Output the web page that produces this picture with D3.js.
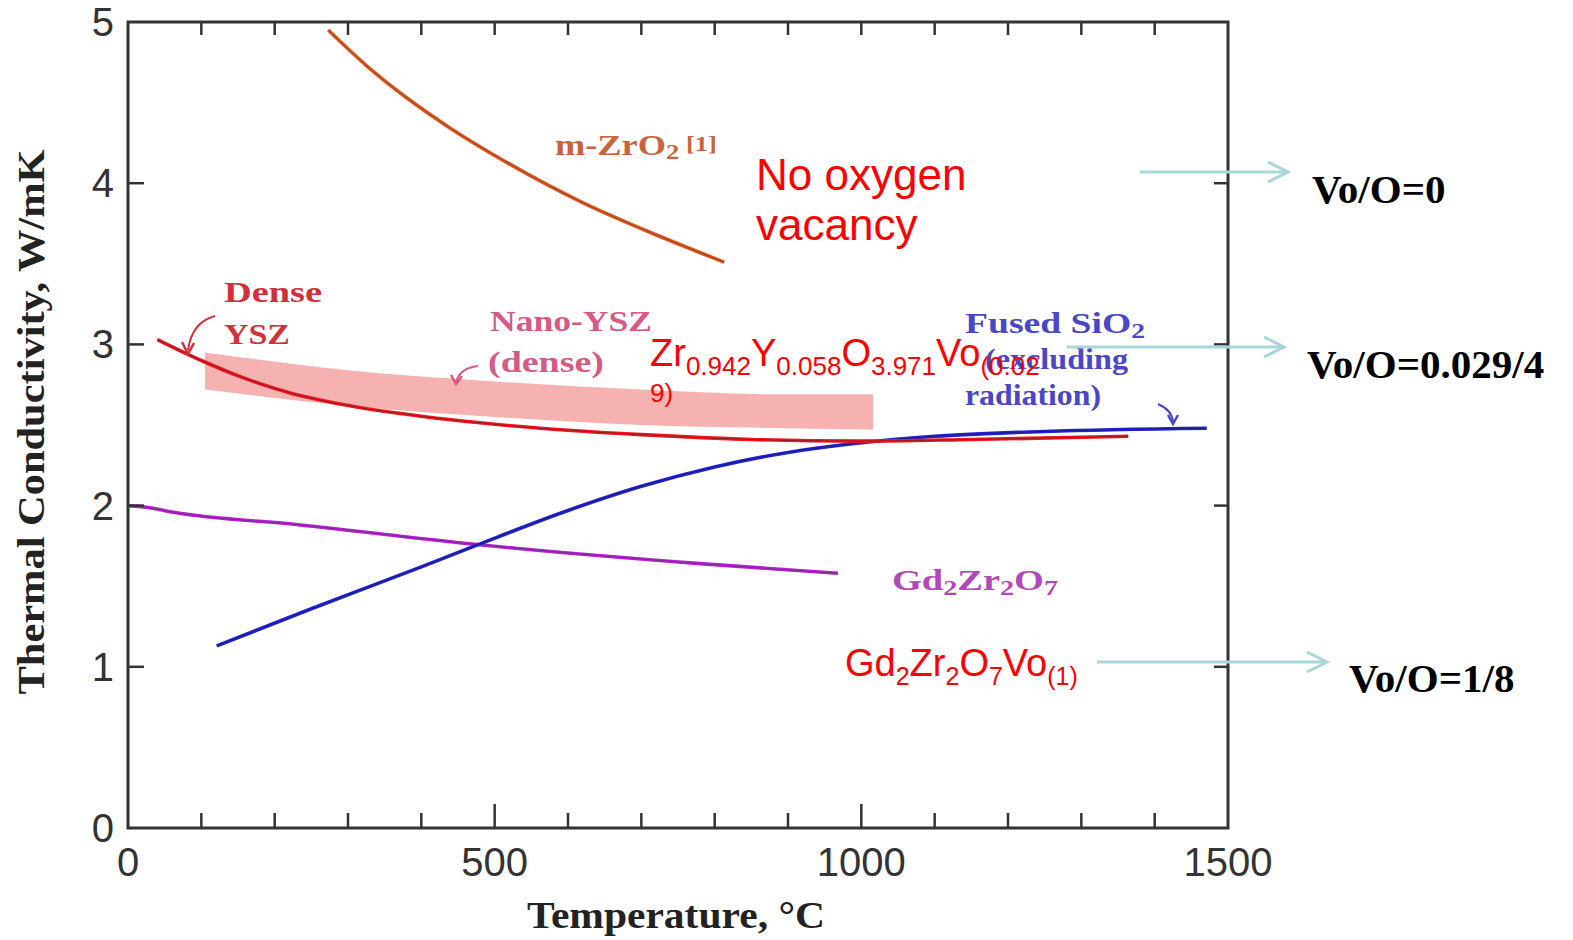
<!DOCTYPE html>
<html>
<head>
<meta charset="utf-8">
<script src="https://cdn.jsdelivr.net/npm/d3@7"></script>
<style>
  html, body { margin: 0; padding: 0; background: #fff; }
  svg { display: block; }
</style>
</head>
<body>
<svg id="chart" width="1573" height="940"></svg>
<script>
// temperatures (°C) and conductivities (W/mK)
var mZrO2 = [[273, 4.95], [325, 4.73], [380, 4.53], [440, 4.34], [520, 4.12], [620, 3.88], [720, 3.68], [813, 3.51]];
var denseYSZ = [[40, 3.03], [100, 2.9], [153, 2.8], [220, 2.7], [289, 2.63], [425, 2.54], [562, 2.48],
  [700, 2.44], [850, 2.41], [1000, 2.4], [1150, 2.41], [1364, 2.43]];
var nanoT = [105, 300, 500, 700, 900, 1016];
var nanoUpper = [2.95, 2.84, 2.77, 2.72, 2.69, 2.69];
var nanoLower = [2.72, 2.62, 2.55, 2.5, 2.48, 2.47];
var fusedSiO2 = [[121, 1.13], [250, 1.36], [400, 1.62], [473, 1.75], [600, 1.97], [700, 2.12], [800, 2.24],
  [900, 2.33], [1000, 2.39], [1100, 2.43], [1250, 2.46], [1471, 2.48]];
var gdZrO = [[0, 2.0], [25, 1.99], [60, 1.96], [235, 1.88], [473, 1.76], [780, 1.64], [968, 1.58]];

var xTickLabels = [0, 500, 1000, 1500];
var yTickLabels = [0, 1, 2, 3, 4, 5];
var vacancyRatios = ['Vo/O=0', 'Vo/O=0.029/4', 'Vo/O=1/8'];

(function () {
  'use strict';
  var svg = d3.select('#chart');
  var serif = '"Liberation Serif", "DejaVu Serif", serif';
  var sans = '"Liberation Sans", Arial, sans-serif';
  var axisCol = '#333';

  var x = d3.scaleLinear().domain([0, 1500]).range([128, 1228]);
  var y = d3.scaleLinear().domain([0, 5]).range([828, 22]);

  var line = d3.line()
    .x(function (d) { return x(d[0]); })
    .y(function (d) { return y(d[1]); })
    .curve(d3.curveMonotoneX);

  // nano-YSZ band
  var band = d3.area()
    .x(function (d, i) { return x(nanoT[i]); })
    .y0(function (d, i) { return y(nanoLower[i]); })
    .y1(function (d, i) { return y(nanoUpper[i]); })
    .curve(d3.curveMonotoneX);
  svg.append('path')
    .attr('d', band(nanoT))
    .attr('fill', '#f5a3a3')
    .attr('opacity', 0.85);

  // curves
  var curves = [
    {data: mZrO2, col: '#dc5a22', core: '#8a2a18'},
    {data: gdZrO, col: '#b426cc', core: '#6a1a80'},
    {data: fusedSiO2, col: '#2424cc', core: '#101070'},
    {data: denseYSZ, col: '#ec1a22', core: '#701018'}
  ];
  curves.forEach(function (c) {
    svg.append('path').attr('d', line(c.data))
      .attr('fill', 'none').attr('stroke', c.col).attr('stroke-width', 3.6);
    svg.append('path').attr('d', line(c.data))
      .attr('fill', 'none').attr('stroke', c.core).attr('stroke-width', 1).attr('opacity', 0.6);
  });

  // frame
  svg.append('rect')
    .attr('x', x(0)).attr('y', y(5))
    .attr('width', x(1500) - x(0)).attr('height', y(0) - y(5))
    .attr('fill', 'none').attr('stroke', axisCol).attr('stroke-width', 3);

  // ticks: bottom (major longer), top, left, right
  var minor = d3.range(100, 1500, 100);
  svg.append('g').selectAll('line').data(minor).join('line')
    .attr('x1', x).attr('x2', x)
    .attr('y1', y(0))
    .attr('y2', function (d) { return y(0) - (d % 500 === 0 ? 24 : 15); })
    .attr('stroke', axisCol).attr('stroke-width', 2.5);
  svg.append('g').selectAll('line').data(minor).join('line')
    .attr('x1', x).attr('x2', x)
    .attr('y1', y(5)).attr('y2', y(5) + 13)
    .attr('stroke', axisCol).attr('stroke-width', 2.5);
  svg.append('g').selectAll('line').data(d3.range(1, 5)).join('line')
    .attr('x1', x(0)).attr('x2', x(0) + 16)
    .attr('y1', y).attr('y2', y)
    .attr('stroke', axisCol).attr('stroke-width', 2.5);
  svg.append('g').selectAll('line').data(d3.range(1, 5)).join('line')
    .attr('x1', x(1500)).attr('x2', x(1500) - 14)
    .attr('y1', y).attr('y2', y)
    .attr('stroke', axisCol).attr('stroke-width', 2.5);

  // tick labels
  svg.append('g').selectAll('text').data(xTickLabels).join('text')
    .attr('x', x).attr('y', 876)
    .attr('text-anchor', 'middle')
    .attr('font-family', sans).attr('font-size', 40).attr('fill', axisCol)
    .text(function (d) { return d; });
  svg.append('g').selectAll('text').data(yTickLabels).join('text')
    .attr('x', 114).attr('y', function (d) { return y(d) + 14; })
    .attr('text-anchor', 'end')
    .attr('font-family', sans).attr('font-size', 40).attr('fill', axisCol)
    .text(function (d) { return d; });

  // axis titles
  svg.append('text')
    .attr('x', 676).attr('y', 928)
    .attr('text-anchor', 'middle')
    .attr('font-family', serif).attr('font-weight', 'bold').attr('font-size', 38)
    .attr('fill', '#222')
    .attr('textLength', 298).attr('lengthAdjust', 'spacingAndGlyphs')
    .text('Temperature, °C');
  svg.append('text')
    .attr('transform', 'translate(44,422) rotate(-90)')
    .attr('text-anchor', 'middle')
    .attr('font-family', serif).attr('font-weight', 'bold').attr('font-size', 38)
    .attr('fill', '#222')
    .attr('textLength', 545).attr('lengthAdjust', 'spacingAndGlyphs')
    .text('Thermal Conductivity, W/mK');

  // helper for labels with subscripts: parts = [[text, shift], ...] (shift 1 = sub, -1 = sup)
  function richText(px, py, parts, opt) {
    var t = svg.append('text')
      .attr('x', px).attr('y', py)
      .attr('font-family', opt.family)
      .attr('font-weight', opt.weight || 'normal')
      .attr('font-size', opt.size)
      .attr('fill', opt.col);
    if (opt.len) {
      t.attr('textLength', opt.len).attr('lengthAdjust', 'spacingAndGlyphs');
    }
    var prev = 0;
    parts.forEach(function (p) {
      var dy = p[1] === 1 ? opt.subDy : (p[1] === -1 ? -4 : 0);
      t.append('tspan')
        .attr('dy', dy - prev)
        .attr('font-size', p[1] ? opt.subSize : opt.size)
        .text(p[0]);
      prev = dy;
    });
    return t;
  }

  var lab = {family: serif, weight: 'bold', size: 30, subSize: 22, subDy: 5};

  // series labels from the original figure
  richText(555, 155, [['m-ZrO', 0], ['2', 1], [' [1]', -1]],
    Object.assign({}, lab, {col: '#c8643c', len: 162, subDy: 4}));
  richText(224, 302, [['Dense', 0]], Object.assign({}, lab, {col: '#d2303a', len: 98}));
  richText(224, 344, [['YSZ', 0]], Object.assign({}, lab, {col: '#d2303a', len: 66}));
  richText(490, 331, [['Nano-YSZ', 0]], Object.assign({}, lab, {col: '#d65a86', len: 162}));
  richText(488, 372, [['(dense)', 0]], Object.assign({}, lab, {col: '#d65a86', len: 116}));
  richText(965, 333, [['Fused SiO', 0], ['2', 1]], Object.assign({}, lab, {col: '#4a46c8', len: 180}));
  richText(985, 369, [['(excluding', 0]], Object.assign({}, lab, {col: '#4a46c8', len: 143}));
  richText(965, 405, [['radiation)', 0]], Object.assign({}, lab, {col: '#4a46c8', len: 136}));
  richText(892, 590, [['Gd', 0], ['2', 1], ['Zr', 0], ['2', 1], ['O', 0], ['7', 1]],
    Object.assign({}, lab, {col: '#b048b8', len: 166}));

  // small curved pointer arrows
  var pointers = [
    {d: 'M215,316 Q192,322 188,350', col: '#d2303a'},
    {d: 'M478,366 Q460,368 456,382', col: '#d65a86'},
    {d: 'M1158,404 Q1172,410 1173,422', col: '#4a46c8'}
  ];
  pointers.forEach(function (p) {
    svg.append('path').attr('d', p.d)
      .attr('fill', 'none').attr('stroke', p.col).attr('stroke-width', 2);
  });
  svg.append('path').attr('d', 'M182,342 L188,354 L194,343').attr('fill', 'none')
    .attr('stroke', '#d2303a').attr('stroke-width', 2.5);
  svg.append('path').attr('d', 'M451,375 L456,384 L462,376').attr('fill', 'none')
    .attr('stroke', '#d65a86').attr('stroke-width', 2.5);
  svg.append('path').attr('d', 'M1168,415 L1173,424 L1178,415').attr('fill', 'none')
    .attr('stroke', '#4a46c8').attr('stroke-width', 2.5);

  // added red annotations
  var red = {family: sans, size: 44, col: '#ff0000'};
  richText(756, 190, [['No oxygen', 0]], red);
  richText(756, 240, [['vacancy', 0]], red);
  var formula = {family: sans, size: 38, subSize: 26, subDy: 9, col: '#ff0000'};
  richText(650, 366, [['Zr', 0], ['0.942', 1], ['Y', 0], ['0.058', 1], ['O', 0], ['3.971', 1],
    ['Vo', 0], ['(0.02', 1]], formula);
  richText(650, 402, [['9)', 0]], {family: sans, size: 26, col: '#ff0000'});
  richText(845, 676, [['Gd', 0], ['2', 1], ['Zr', 0], ['2', 1], ['O', 0], ['7', 1], ['Vo', 0], ['(1)', 1]],
    {family: sans, size: 38, subSize: 25, subDy: 9, col: '#ff0000'});

  // teal arrows to vacancy ratios
  var arrowCol = '#a9d6da';
  var arrows = [
    {x1: 1140, x2: 1288, yy: 172},
    {x1: 1067, x2: 1284, yy: 347},
    {x1: 1097, x2: 1327, yy: 662}
  ];
  arrows.forEach(function (a) {
    svg.append('line')
      .attr('x1', a.x1).attr('x2', a.x2).attr('y1', a.yy).attr('y2', a.yy)
      .attr('stroke', arrowCol).attr('stroke-width', 3);
    svg.append('path')
      .attr('d', 'M' + (a.x2 - 20) + ',' + (a.yy - 10) + ' L' + a.x2 + ',' + a.yy +
        ' L' + (a.x2 - 20) + ',' + (a.yy + 10))
      .attr('fill', 'none').attr('stroke', arrowCol).attr('stroke-width', 3);
  });

  var ratioPos = [[1312, 203], [1307, 378], [1349, 692]];
  svg.append('g').selectAll('text').data(vacancyRatios).join('text')
    .attr('x', function (d, i) { return ratioPos[i][0]; })
    .attr('y', function (d, i) { return ratioPos[i][1]; })
    .attr('font-family', serif).attr('font-weight', 'bold').attr('font-size', 41)
    .attr('fill', '#000')
    .text(function (d) { return d; });
}());
</script>
</body>
</html>
